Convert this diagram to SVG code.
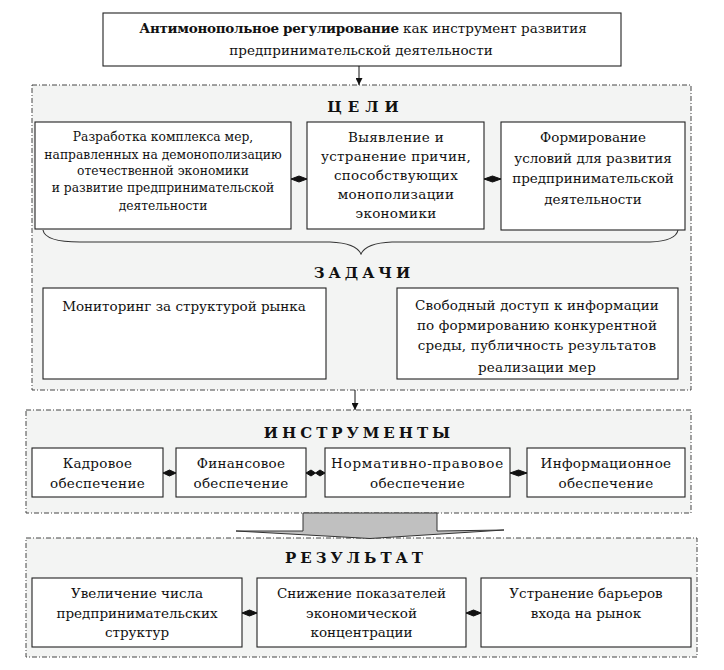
<svg xmlns="http://www.w3.org/2000/svg" width="724" height="670" viewBox="0 0 724 670">
<style>
.sec{fill:#f3f4f3;stroke:#444;stroke-width:1;stroke-dasharray:5,2,1,2}
.box{fill:#fff;stroke:#222;stroke-width:1.1}
.t{font-family:"DejaVu Serif","Liberation Serif",serif;font-size:13.5px;fill:#111;text-anchor:middle}
.w{letter-spacing:0.3px}
.n{font-size:12.3px}
.h{font-family:"DejaVu Serif","Liberation Serif",serif;font-size:15px;font-weight:bold;fill:#111;text-anchor:middle;letter-spacing:4px}
.conn{fill:#111;stroke:#111;stroke-width:1}
.arr{stroke:#111;stroke-width:1;fill:none}
</style>
<defs>
<marker id="ah" viewBox="0 0 10 10" refX="10" refY="5" markerWidth="7" markerHeight="7" markerUnits="userSpaceOnUse" orient="auto">
<path d="M0,0 L10,5 L0,10 z" fill="#111"/>
</marker>
</defs>
<rect width="724" height="670" fill="#fff"/>

<g id="sec-goals"><rect class="sec" x="32" y="85" width="659" height="305"/>
<text class="h" x="366" y="112" style="letter-spacing:6px">ЦЕЛИ</text>
<text class="h" x="364" y="278">ЗАДАЧИ</text></g>
<g id="sec-tools"><rect class="sec" x="26" y="410" width="665" height="103"/>
<text class="h" x="359" y="438">ИНСТРУМЕНТЫ</text></g>
<g id="sec-result"><rect class="sec" x="26" y="538" width="671" height="119"/>
<text class="h" x="356" y="563">РЕЗУЛЬТАТ</text></g>

<g id="title"><rect class="box" x="103" y="13" width="518" height="53"/>
<text class="t" x="363" y="33"><tspan font-weight="bold" style="letter-spacing:-0.3px">Антимонопольное регулирование</tspan> как инструмент развития</text>
<text class="t" x="361" y="55">предпринимательской деятельности</text></g>

<g id="goal1"><rect class="box" x="35" y="122" width="256" height="107"/>
<text class="t n" x="163" y="141">Разработка комплекса мер,</text>
<text class="t n" x="163" y="159">направленных на демонополизацию</text>
<text class="t n" x="163" y="175">отечественной экономики</text>
<text class="t n" x="163" y="192">и развитие предпринимательской</text>
<text class="t n" x="163" y="210">деятельности</text></g>
<g id="goal2"><rect class="box" x="307" y="122" width="177" height="107"/>
<text class="t w" x="396" y="142">Выявление и</text>
<text class="t w" x="396" y="161">устранение причин,</text>
<text class="t w" x="396" y="180">способствующих</text>
<text class="t w" x="396" y="199">монополизации</text>
<text class="t w" x="396" y="218">экономики</text></g>
<g id="goal3"><rect class="box" x="501" y="122" width="184" height="108"/>
<text class="t" x="593" y="142">Формирование</text>
<text class="t" x="593" y="163">условий для развития</text>
<text class="t" x="593" y="183">предпринимательской</text>
<text class="t" x="593" y="204">деятельности</text></g>

<g id="brace"><path d="M43,230 Q45,242 80,242 L330,242 Q356,243 361,254 Q366,243 392,242 L650,242 Q676,241 678,230" fill="none" stroke="#333" stroke-width="1.1"/></g>

<g id="task1"><rect class="box" x="43" y="288" width="283" height="91"/>
<text class="t" x="184" y="311">Мониторинг за структурой рынка</text></g>
<g id="task2"><rect class="box" x="397" y="288" width="281" height="91"/>
<text class="t" style="letter-spacing:0.15px" x="537" y="310">Свободный доступ к информации</text>
<text class="t" style="letter-spacing:0.15px" x="537" y="330">по формированию конкурентной</text>
<text class="t" style="letter-spacing:0.15px" x="537" y="350">среды, публичность результатов</text>
<text class="t" style="letter-spacing:0.15px" x="537" y="372">реализации мер</text></g>

<g id="tool1"><rect class="box" x="32" y="448" width="131" height="49"/>
<text class="t w" x="97.5" y="468">Кадровое</text>
<text class="t w" x="97.5" y="488">обеспечение</text></g>
<g id="tool2"><rect class="box" x="176" y="448" width="130" height="49"/>
<text class="t w" x="241" y="468">Финансовое</text>
<text class="t w" x="241" y="488">обеспечение</text></g>
<g id="tool3"><rect class="box" x="325" y="448" width="185" height="49"/>
<text class="t" style="letter-spacing:0.8px" x="417.5" y="468">Нормативно-правовое</text>
<text class="t w" x="417.5" y="488">обеспечение</text></g>
<g id="tool4"><rect class="box" x="527" y="448" width="158" height="49"/>
<text class="t w" x="606" y="468">Информационное</text>
<text class="t w" x="606" y="488">обеспечение</text></g>

<g id="res1"><rect class="box" x="32" y="578" width="210" height="69"/>
<text class="t" x="137" y="598">Увеличение числа</text>
<text class="t" x="137" y="618">предпринимательских</text>
<text class="t" x="137" y="637">структур</text></g>
<g id="res2"><rect class="box" x="257" y="578" width="209" height="69"/>
<text class="t" x="361.5" y="598">Снижение показателей</text>
<text class="t" x="361.5" y="618">экономической</text>
<text class="t" x="361.5" y="637">концентрации</text></g>
<g id="res3"><rect class="box" x="481" y="578" width="210" height="69"/>
<text class="t" x="586" y="598">Устранение барьеров</text>
<text class="t" x="586" y="618">входа на рынок</text></g>

<g id="connectors">
<line class="arr" x1="359" y1="66" x2="359" y2="85" marker-end="url(#ah)"/>
<line class="arr" x1="355" y1="390" x2="355" y2="410" marker-end="url(#ah)"/>
<path class="conn" d="M291,179 L299,176 L307,179 L299,182 Z"/>
<path class="conn" d="M484,179 L492.5,176 L501,179 L492.5,182 Z"/>
<path class="conn" d="M163,473 L169.5,470 L176,473 L169.5,476 Z"/>
<path class="conn" d="M306,473 L311,470 L315.5,473 L320,470 L325,473 L320,476 L315.5,473 L311,476 Z"/>
<path class="conn" d="M510,473 L518.5,470 L527,473 L518.5,476 Z"/>
<path class="conn" d="M242,613 L249.5,610 L257,613 L249.5,616 Z"/>
<path class="conn" d="M466,613 L473.5,610 L481,613 L473.5,616 Z"/>
<path d="M303,513 L437,513 L437,531 L504,530 L370,538.5 L236,531 L303,531 Z" fill="#c0c0c0" stroke="#333" stroke-width="1"/>
</g>
</svg>
